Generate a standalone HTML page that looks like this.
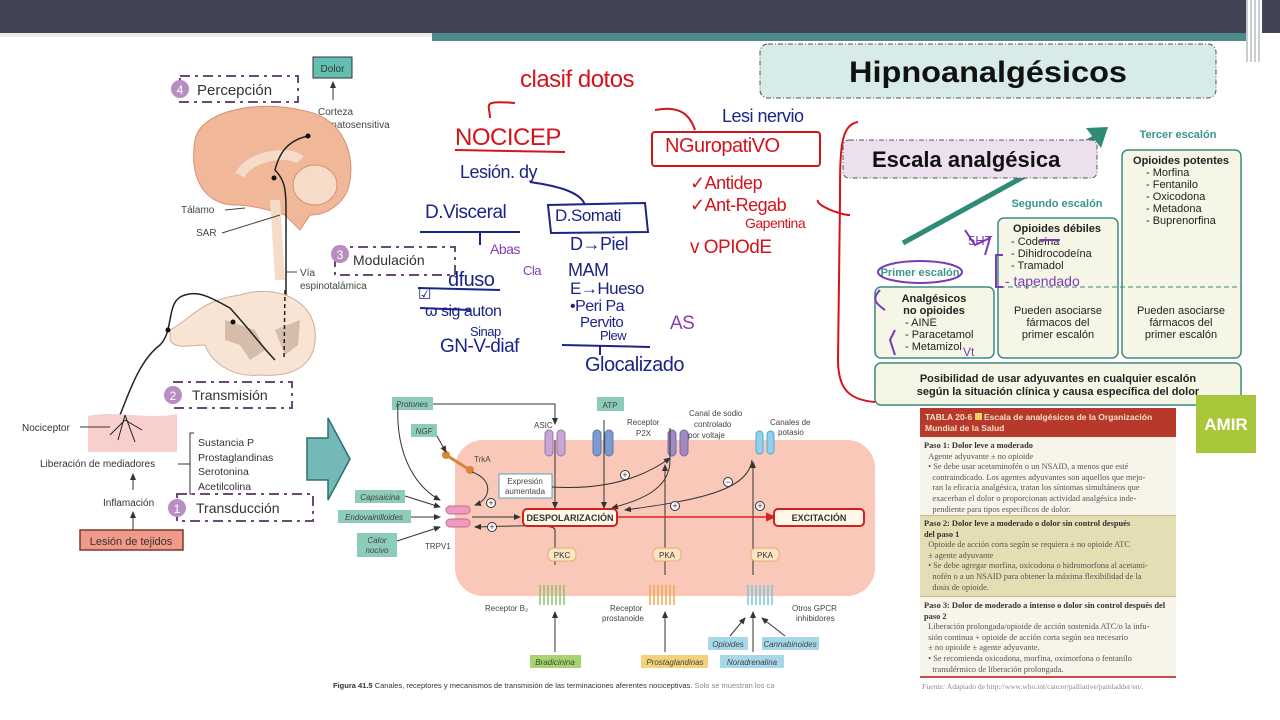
<!DOCTYPE html>
<html><head><meta charset="utf-8">
<style>
*{margin:0;padding:0;box-sizing:border-box}
body{width:1280px;height:720px;background:#fff;position:relative;overflow:hidden;font-family:"Liberation Sans",sans-serif}
.a{position:absolute}
.hw{position:absolute;font-family:"Liberation Sans Narrow","Liberation Sans",sans-serif;white-space:nowrap;letter-spacing:-0.5px}
.r{color:#d4141c}.b{color:#1b2585}.p{color:#8a3ab5}
.tl{font-family:"Liberation Serif",serif;font-size:8.4px;color:#555;line-height:10.6px}
</style></head><body>
<div class="a" style="left:0;top:0;width:1280px;height:33px;background:#404455"></div>
<div class="a" style="left:432px;top:33px;width:820px;height:8px;background:#4d8c8a"></div>
<div class="a" style="left:0;top:33px;width:432px;height:4px;background:#e8eeee"></div>
<div class="a" style="left:1246px;top:0;width:16px;height:62px;background:repeating-linear-gradient(90deg,#c8cdd0 0 2px,#fff 2px 4px)"></div>

<svg class="a" style="left:0;top:0" width="1280" height="720" viewBox="0 0 1280 720">
<defs>
<marker id="ar" markerWidth="8" markerHeight="8" refX="6" refY="3" orient="auto"><path d="M0,0 L7,3 L0,6 z" fill="#333"/></marker>
<marker id="rr" markerWidth="8" markerHeight="8" refX="6" refY="3" orient="auto"><path d="M0,0 L7,3 L0,6 z" fill="#e02020"/></marker>
</defs>
<rect x="313" y="57" width="39" height="21" fill="#64bfb3" stroke="#333"/>
<text x="332.5" y="72" font-size="10" text-anchor="middle" fill="#333">Dolor</text>
<line x1="333" y1="100" x2="333" y2="82" stroke="#333" marker-end="url(#ar)"/>
<text x="318" y="115" font-size="10" fill="#444">Corteza</text>
<text x="318" y="128" font-size="10" fill="#444">somatosensitiva</text>
<rect x="180" y="76" width="118" height="26" fill="none" stroke="#6b4a74" stroke-width="2" stroke-dasharray="10,5,3,5"/>
<circle cx="180" cy="89" r="9" fill="#b98cc2"/><text x="180" y="94" font-size="12" fill="#fff" text-anchor="middle">4</text>
<text x="197" y="95" font-size="15" fill="#333">Percepción</text>
<path d="M195,140 C200,110 260,100 300,110 C340,115 355,150 350,180 C348,200 330,215 310,215 L300,230 L285,215 C270,210 250,205 235,205 C210,205 188,185 195,140z" fill="#f1b799" stroke="#d98f70"/>
<ellipse cx="315" cy="185" rx="22" ry="20" fill="#f6dcc8" stroke="#d98f70"/>
<path d="M240,175 C250,155 290,150 300,160" stroke="#f6dcc8" stroke-width="10" fill="none"/>
<path d="M275,200 L280,280" stroke="#f6dcc8" stroke-width="10"/>
<path d="M308,136 C290,140 280,150 275,170 C285,180 286,190 286,210 L286,330" stroke="#222" stroke-width="1.5" fill="none"/>
<circle cx="308" cy="136" r="2.5" fill="#111"/><circle cx="274" cy="178" r="2.5" fill="#111"/>
<text x="181" y="213" font-size="10" fill="#444">Tálamo</text><line x1="225" y1="210" x2="245" y2="208" stroke="#444"/>
<text x="196" y="236" font-size="10" fill="#444">SAR</text><line x1="222" y1="233" x2="280" y2="215" stroke="#444"/>
<text x="300" y="276" font-size="10" fill="#444">Vía</text><line x1="286" y1="272" x2="297" y2="272" stroke="#444"/>
<text x="300" y="289" font-size="10" fill="#444">espinotalámica</text>
<path d="M170,330 C190,320 200,300 240,295 C270,285 310,295 315,330 C318,360 300,378 260,375 C230,378 210,360 205,345 C190,345 175,350 170,340z" fill="#f7e4d4" stroke="#ccb09a"/>
<path d="M225,320 L255,330 L265,350 L250,360 L240,345 L225,340z M275,330 L300,320 L298,345 L285,355z" fill="#d6bcab"/>
<path d="M120,415 C130,390 140,360 160,345 C175,330 165,300 185,295 C200,290 215,300 230,308 C250,330 265,350 275,360" stroke="#222" stroke-width="1.5" fill="none"/>
<line x1="285" y1="290" x2="284" y2="360" stroke="#222" stroke-width="1.5" stroke-dasharray="4,3"/>
<circle cx="168" cy="330" r="2.5" fill="#111"/><circle cx="233" cy="322" r="2.5" fill="#111"/>
<rect x="335" y="247" width="120" height="28" fill="none" stroke="#6b4a74" stroke-width="2" stroke-dasharray="10,5,3,5"/>
<circle cx="340" cy="254" r="9" fill="#b98cc2"/><text x="340" y="259" font-size="12" fill="#fff" text-anchor="middle">3</text>
<text x="353" y="265" font-size="14" fill="#333">Modulación</text>
<rect x="173" y="382" width="119" height="26" fill="none" stroke="#6b4a74" stroke-width="2" stroke-dasharray="10,5,3,5"/>
<circle cx="173" cy="395" r="9" fill="#b98cc2"/><text x="173" y="400" font-size="12" fill="#fff" text-anchor="middle">2</text>
<text x="192" y="400" font-size="14" fill="#333">Transmisión</text>
<path d="M88,416 C110,410 150,420 177,414 L177,452 L88,452z" fill="#f7d0cd"/>
<path d="M125,415 L118,440 M125,415 L135,442 M125,420 L110,435 M125,420 L142,430" stroke="#222" stroke-width="1" fill="none"/>
<text x="22" y="431" font-size="10" fill="#333">Nociceptor</text><line x1="80" y1="427" x2="110" y2="427" stroke="#333"/>
<text x="40" y="467" font-size="10" fill="#333">Liberación de mediadores</text><line x1="178" y1="464" x2="190" y2="464" stroke="#333"/>
<path d="M194,433 L190,433 L190,494 L194,494" stroke="#333" fill="none"/>
<text x="198" y="446" font-size="10.5" fill="#333">Sustancia P</text>
<text x="198" y="461" font-size="10.5" fill="#333">Prostaglandinas</text>
<text x="198" y="475" font-size="10.5" fill="#333">Serotonina</text>
<text x="198" y="490" font-size="10.5" fill="#333">Acetilcolina</text>
<line x1="133" y1="490" x2="133" y2="474" stroke="#333" marker-end="url(#ar)"/>
<text x="103" y="506" font-size="10" fill="#333">Inflamación</text>
<line x1="133" y1="530" x2="133" y2="512" stroke="#333" marker-end="url(#ar)"/>
<rect x="80" y="530" width="103" height="20" fill="#f29a8a" stroke="#7b3b2b" stroke-width="1.5"/>
<text x="131" y="545" font-size="11" fill="#333" text-anchor="middle">Lesión de tejidos</text>
<rect x="177" y="494" width="136" height="27" fill="none" stroke="#6b4a74" stroke-width="2" stroke-dasharray="10,5,3,5"/>
<circle cx="177" cy="508" r="9" fill="#b98cc2"/><text x="177" y="513" font-size="12" fill="#fff" text-anchor="middle">1</text>
<text x="196" y="513" font-size="14" fill="#333">Transducción</text>
<path d="M307,438 L328,438 L328,418 L350,459 L328,500 L328,480 L307,480z" fill="#74b8b8" stroke="#2f6f6f" stroke-width="1.5"/>

<rect x="455" y="440" width="420" height="156" rx="28" fill="#f9c8b9"/>
<g font-size="8" fill="#444">
<rect x="392" y="397" width="41" height="13" fill="#8dcbbb"/><text x="412" y="407" text-anchor="middle" font-style="italic">Protones</text>
<rect x="411" y="424" width="26" height="13" fill="#8dcbbb"/><text x="424" y="434" text-anchor="middle" font-style="italic">NGF</text>
<rect x="355" y="490" width="50" height="13" fill="#8dcbbb"/><text x="380" y="500" text-anchor="middle" font-style="italic">Capsaicina</text>
<rect x="338" y="510" width="73" height="13" fill="#8dcbbb"/><text x="374" y="520" text-anchor="middle" font-style="italic">Endovainilloides</text>
<rect x="357" y="533" width="40" height="24" fill="#8dcbbb"/><text x="377" y="543" text-anchor="middle" font-style="italic">Calor</text><text x="377" y="553" text-anchor="middle" font-style="italic">nocivo</text>
<rect x="597" y="397" width="27" height="14" fill="#8dcbbb"/><text x="610" y="408" text-anchor="middle">ATP</text>
<text x="534" y="428">ASIC</text>
<text x="627" y="425">Receptor</text><text x="636" y="436">P2X</text>
<text x="689" y="416">Canal de sodio</text><text x="694" y="427">controlado</text><text x="688" y="438">por voltaje</text>
<text x="770" y="425">Canales de</text><text x="778" y="435">potasio</text>
<text x="474" y="462">TrkA</text><text x="425" y="549">TRPV1</text>
<rect x="499" y="474" width="53" height="24" fill="#fff" stroke="#57a6c0"/><text x="525" y="484" text-anchor="middle">Expresión</text><text x="525" y="494" text-anchor="middle">aumentada</text>
<text x="485" y="611">Receptor B₂</text>
<text x="610" y="611">Receptor</text><text x="602" y="621">prostanoide</text>
<text x="792" y="611">Otros GPCR</text><text x="796" y="621">inhibidores</text>
<rect x="530" y="655" width="51" height="13" fill="#a8d46e"/><text x="555" y="665" text-anchor="middle" font-style="italic">Bradicinina</text>
<rect x="641" y="655" width="67" height="13" fill="#f3d27a"/><text x="675" y="665" text-anchor="middle" font-style="italic">Prostaglandinas</text>
<rect x="708" y="637" width="40" height="13" fill="#a7d8ea"/><text x="728" y="647" text-anchor="middle" font-style="italic">Opioides</text>
<rect x="762" y="637" width="57" height="13" fill="#a7d8ea"/><text x="790" y="647" text-anchor="middle" font-style="italic">Cannabinoides</text>
<rect x="720" y="655" width="64" height="13" fill="#a7d8ea"/><text x="752" y="665" text-anchor="middle" font-style="italic">Noradrenalina</text>
</g>
<g>
<rect x="545" y="430" width="8" height="26" rx="4" fill="#c8a6d6" stroke="#9a76aa"/><rect x="557" y="430" width="8" height="26" rx="4" fill="#c8a6d6" stroke="#9a76aa"/>
<rect x="593" y="430" width="8" height="26" rx="4" fill="#7d9bd0" stroke="#5a76aa"/><rect x="605" y="430" width="8" height="26" rx="4" fill="#7d9bd0" stroke="#5a76aa"/>
<rect x="668" y="430" width="8" height="26" rx="4" fill="#a08ac2" stroke="#7a66a0"/><rect x="680" y="430" width="8" height="26" rx="4" fill="#a08ac2" stroke="#7a66a0"/>
<rect x="756" y="431" width="7" height="23" rx="3.5" fill="#8ed0ee" stroke="#5aa8cc"/><rect x="767" y="431" width="7" height="23" rx="3.5" fill="#8ed0ee" stroke="#5aa8cc"/>
<rect x="446" y="506" width="24" height="8" rx="4" fill="#ef9ac0" stroke="#c46a90"/><rect x="446" y="519" width="24" height="8" rx="4" fill="#ef9ac0" stroke="#c46a90"/>
<line x1="446" y1="455" x2="470" y2="470" stroke="#d9843c" stroke-width="3"/><circle cx="446" cy="455" r="4" fill="#d9843c"/><circle cx="470" cy="470" r="4" fill="#d9843c"/>
</g>
<g stroke="#333" fill="none" stroke-width="1">
<path d="M433,404 L555,404 L555,424" marker-end="url(#ar)"/>
<path d="M398,404 C395,460 420,490 440,500" marker-end="url(#ar)"/>
<path d="M437,436 L446,452" marker-end="url(#ar)"/>
<path d="M405,496 L440,507" marker-end="url(#ar)"/>
<path d="M411,517 L440,517" marker-end="url(#ar)"/>
<path d="M397,541 L440,527" marker-end="url(#ar)"/>
<path d="M472,472 C495,480 490,500 475,505" marker-end="url(#ar)"/>
<path d="M552,487 C600,490 640,480 670,458" marker-end="url(#ar)"/>
<line x1="555" y1="440" x2="555" y2="508" marker-end="url(#ar)"/>
<line x1="604" y1="420" x2="604" y2="508" marker-end="url(#ar)"/>
<path d="M670,428 L670,460 C670,490 640,500 612,508" marker-end="url(#ar)"/>
<path d="M752,460 C748,490 700,500 625,510" marker-end="url(#ar)"/>
<line x1="665" y1="575" x2="665" y2="465" marker-end="url(#ar)"/>
<line x1="753" y1="575" x2="753" y2="462" marker-end="url(#ar)"/>
<path d="M555,565 L555,530 C555,525 540,525 475,527" marker-end="url(#ar)"/>
<line x1="555" y1="652" x2="555" y2="612" marker-end="url(#ar)"/>
<line x1="665" y1="652" x2="665" y2="612" marker-end="url(#ar)"/>
<line x1="753" y1="652" x2="753" y2="612" marker-end="url(#ar)"/>
<line x1="730" y1="636" x2="745" y2="618" marker-end="url(#ar)"/>
<line x1="785" y1="636" x2="762" y2="618" marker-end="url(#ar)"/>
<line x1="472" y1="517" x2="520" y2="517" marker-end="url(#ar)"/>
</g>
<line x1="617" y1="517" x2="775" y2="517" stroke="#e02020" stroke-width="1.5" marker-end="url(#rr)"/>
<rect x="523" y="509" width="94" height="17" rx="4" fill="#fff8e8" stroke="#d02020" stroke-width="2"/>
<text x="570" y="521" font-size="9" font-weight="bold" text-anchor="middle" fill="#333">DESPOLARIZACIÓN</text>
<rect x="774" y="509" width="90" height="17" rx="4" fill="#fff8e8" stroke="#d02020" stroke-width="2"/>
<text x="819" y="521" font-size="9" font-weight="bold" text-anchor="middle" fill="#333">EXCITACIÓN</text>
<g font-size="8" fill="#333" text-anchor="middle">
<rect x="548" y="548" width="28" height="13" rx="5" fill="#fbe4c0" stroke="#e0b070"/><text x="562" y="558">PKC</text>
<rect x="653" y="548" width="28" height="13" rx="5" fill="#fbe4c0" stroke="#e0b070"/><text x="667" y="558">PKA</text>
<rect x="751" y="548" width="28" height="13" rx="5" fill="#fbe4c0" stroke="#e0b070"/><text x="765" y="558">PKA</text>
</g>
<g fill="none" stroke-width="1.5">
<path d="M540,605 L540,585 M544,605 L544,585 M548,605 L548,585 M552,605 L552,585 M556,605 L556,585 M560,605 L560,585 M564,605 L564,585" stroke="#8cc46a"/>
<path d="M650,605 L650,585 M654,605 L654,585 M658,605 L658,585 M662,605 L662,585 M666,605 L666,585 M670,605 L670,585 M674,605 L674,585" stroke="#f0a850"/>
<path d="M748,605 L748,585 M752,605 L752,585 M756,605 L756,585 M760,605 L760,585 M764,605 L764,585 M768,605 L768,585 M772,605 L772,585" stroke="#7ac4de"/>
</g>
<g font-size="9" fill="#333" text-anchor="middle">
<circle cx="491" cy="503" r="4.5" fill="#fff" stroke="#333"/><text x="491" y="506">+</text>
<circle cx="492" cy="527" r="4.5" fill="#fff" stroke="#333"/><text x="492" y="530">+</text>
<circle cx="625" cy="475" r="4.5" fill="#fff" stroke="#333"/><text x="625" y="478">+</text>
<circle cx="728" cy="482" r="4.5" fill="#fff" stroke="#333"/><text x="728" y="485">−</text>
<circle cx="675" cy="506" r="4.5" fill="#fff" stroke="#333"/><text x="675" y="509">+</text>
<circle cx="760" cy="506" r="4.5" fill="#fff" stroke="#333"/><text x="760" y="509">+</text>
</g>
<text x="333" y="688" font-size="7.5" fill="#333"><tspan font-weight="bold">Figura 41.5</tspan>   Canales, receptores y mecanismos de transmisión de las terminaciones aferentes nociceptivas. <tspan fill="#888">Solo se muestran los ca</tspan></text>

<rect x="760" y="44" width="456" height="54" rx="8" fill="#d7ebe9" stroke="#555" stroke-dasharray="5,2,1,2"/>
<text x="988" y="82" font-size="30" font-weight="bold" text-anchor="middle" fill="#111" textLength="278" lengthAdjust="spacingAndGlyphs">Hipnoanalgésicos</text>
<line x1="903" y1="243" x2="1096" y2="137" stroke="#2f8a78" stroke-width="5"/>
<path d="M1108,127 L1086,128 L1101,148 z" fill="#2f8a78"/>
<rect x="843" y="140" width="254" height="38" rx="6" fill="#ece0ee" stroke="#555" stroke-dasharray="5,2,1,2"/>
<text x="872" y="167" font-size="22" font-weight="bold" fill="#111">Escala analgésica</text>
<g font-weight="bold" fill="#3a968a" font-size="11" text-anchor="middle">
<text x="1178" y="138">Tercer escalón</text><text x="1057" y="207">Segundo escalón</text><text x="920" y="276">Primer escalón</text>
</g>
<g fill="#f6f6e6" stroke="#3f8a80" stroke-width="1.5">
<rect x="1122" y="150" width="119" height="208" rx="6"/>
<rect x="998" y="218" width="120" height="140" rx="6"/>
<rect x="875" y="287" width="119" height="71" rx="6"/>
<rect x="875" y="363" width="366" height="42" rx="6"/>
</g>
<line x1="1000" y1="287" x2="1241" y2="287" stroke="#3f8a80" stroke-dasharray="5,3"/>
<g font-size="11" fill="#222">
<text x="1181" y="164" font-weight="bold" text-anchor="middle">Opioides potentes</text>
<text x="1146" y="176">- Morfina</text><text x="1146" y="188">- Fentanilo</text><text x="1146" y="200">- Oxicodona</text><text x="1146" y="212">- Metadona</text><text x="1146" y="224">- Buprenorfina</text>
<text x="1013" y="232" font-weight="bold">Opioides débiles</text>
<text x="1011" y="245">- Codeína</text><text x="1011" y="257">- Dihidrocodeína</text><text x="1011" y="269">- Tramadol</text>
<text x="934" y="302" font-weight="bold" text-anchor="middle">Analgésicos</text><text x="934" y="314" font-weight="bold" text-anchor="middle">no opioides</text>
<text x="905" y="326">- AINE</text><text x="905" y="338">- Paracetamol</text><text x="905" y="350">- Metamizol</text>
<g text-anchor="middle"><text x="1058" y="314">Pueden asociarse</text><text x="1058" y="326">fármacos del</text><text x="1058" y="338">primer escalón</text>
<text x="1181" y="314">Pueden asociarse</text><text x="1181" y="326">fármacos del</text><text x="1181" y="338">primer escalón</text>
<text x="1058" y="382" font-weight="bold">Posibilidad de usar adyuvantes en cualquier escalón</text>
<text x="1058" y="395" font-weight="bold">según la situación clínica y causa específica del dolor</text></g>
</g>
<g stroke="#7a3ab5" stroke-width="2" fill="none">
<ellipse cx="920" cy="272" rx="42" ry="11"/>
<path d="M880,290 C870,300 878,305 885,310"/>
<path d="M1003,255 L996,255 L996,287 L1003,287"/>
<path d="M965,230 L975,245 L990,238 L985,255"/>
<path d="M895,330 L890,340 L895,355"/>
<path d="M1040,240 L1060,240"/>
</g>
<text x="1005" y="286" font-size="14" fill="#7a3ab5">- tapendado</text>
<text x="968" y="245" font-size="13" fill="#7a3ab5">5HT</text>
<text x="963" y="356" font-size="12" fill="#7a3ab5">Vt</text>
<rect x="1196" y="395" width="60" height="58" fill="#a9c73b"/>
<text x="1226" y="430" font-size="17" font-weight="bold" fill="#fff" text-anchor="middle">AMIR</text>

<path d="M858,122 C840,125 840,150 840,200 L838,360 C838,390 850,400 875,402" stroke="#d4141c" stroke-width="2" fill="none"/>
<g stroke="#d4141c" stroke-width="2" fill="none">
<path d="M515,103 C480,100 490,105 490,118"/>
<path d="M655,110 C680,105 690,115 695,130"/>
<rect x="652" y="132" width="168" height="34" rx="3"/>
<path d="M455,150 L565,152"/>
<path d="M818,200 C815,205 840,215 850,215"/>
</g>
<g stroke="#1b2585" stroke-width="2" fill="none">
<path d="M548,205 L645,203 L648,232 L551,233z"/>
<path d="M420,232 L520,232"/>
<path d="M480,233 L480,245"/>
<path d="M418,288 L500,290"/>
<path d="M420,308 L470,310"/>
<path d="M562,345 L650,347"/>
<path d="M600,345 L600,355"/>
<path d="M530,182 C550,185 580,190 585,205"/>
</g>
</svg>

<div class="hw r" style="left:520px;top:66px;font-size:24px">clasif dotos</div>
<div class="hw r" style="left:455px;top:124px;font-size:24px">NOCICEP</div>
<div class="hw r" style="left:665px;top:135px;font-size:20px">NGuropatiVO</div>
<div class="hw b" style="left:722px;top:106px;font-size:18px">Lesi nervio</div>
<div class="hw r" style="left:690px;top:173px;font-size:18px">✓Antidep</div>
<div class="hw r" style="left:690px;top:195px;font-size:18px">✓Ant-Regab</div>
<div class="hw r" style="left:745px;top:215px;font-size:14px">Gapentina</div>
<div class="hw r" style="left:690px;top:237px;font-size:19px">v OPIOdE</div>
<div class="hw b" style="left:460px;top:162px;font-size:18px">Lesión. dy</div>
<div class="hw b" style="left:425px;top:202px;font-size:19px">D.Visceral</div>
<div class="hw b" style="left:555px;top:206px;font-size:17px">D.Somati</div>
<div class="hw b" style="left:570px;top:234px;font-size:18px">D→Piel</div>
<div class="hw b" style="left:568px;top:260px;font-size:18px">MAM</div>
<div class="hw b" style="left:570px;top:279px;font-size:17px">E→Hueso</div>
<div class="hw b" style="left:570px;top:298px;font-size:16px">•Peri Pa</div>
<div class="hw b" style="left:580px;top:314px;font-size:15px">Pervito</div>
<div class="hw b" style="left:600px;top:328px;font-size:13px">Plew</div>
<div class="hw b" style="left:585px;top:354px;font-size:20px">Glocalizado</div>
<div class="hw p" style="left:490px;top:241px;font-size:14px">Abas</div>
<div class="hw p" style="left:523px;top:263px;font-size:13px">Cla</div>
<div class="hw p" style="left:670px;top:313px;font-size:19px">AS</div>
<div class="hw b" style="left:448px;top:269px;font-size:20px">dfuso</div>
<div class="hw b" style="left:418px;top:285px;font-size:15px">☑</div>
<div class="hw b" style="left:425px;top:303px;font-size:16px">ω sig auton</div>
<div class="hw b" style="left:470px;top:324px;font-size:13px">Sinap</div>
<div class="hw b" style="left:440px;top:336px;font-size:19px">GN-V-diaf</div>

<div class="a" style="left:920px;top:408px;width:256px;height:270px;background:#f7f4ea"></div>
<div class="a" style="left:920px;top:408px;width:256px;height:29px;background:#b7392b;color:#f7e0c8;font-size:8.5px;font-weight:bold;padding:4px 5px;line-height:11px">TABLA 20-6 <span style="display:inline-block;width:7px;height:7px;background:#e8d060"></span> Escala de analgésicos de la Organización Mundial de la Salud</div>
<div class="a" style="left:920px;top:515px;width:256px;height:82px;background:#e5ddb4;border-top:1px solid #c7b98a;border-bottom:1px solid #c7b98a"></div>
<div class="a" style="left:920px;top:676px;width:256px;height:2px;background:#c0504d"></div>
<div class="a tl" style="left:924px;top:441px;width:250px"><b style="color:#333">Paso 1: Dolor leve a moderado</b><br>&nbsp;&nbsp;Agente adyuvante ± no opioide<br>&nbsp;&nbsp;• Se debe usar acetaminofén o un NSAID, a menos que esté<br>&nbsp;&nbsp;&nbsp;&nbsp;contraindicado. Los agentes adyuvantes son aquellos que mejo-<br>&nbsp;&nbsp;&nbsp;&nbsp;ran la eficacia analgésica, tratan los síntomas simultáneos que<br>&nbsp;&nbsp;&nbsp;&nbsp;exacerban el dolor o proporcionan actividad analgésica inde-<br>&nbsp;&nbsp;&nbsp;&nbsp;pendiente para tipos específicos de dolor.</div>
<div class="a tl" style="left:924px;top:519px;width:250px"><b style="color:#333">Paso 2: Dolor leve a moderado o dolor sin control después<br>del paso 1</b><br>&nbsp;&nbsp;Opioide de acción corta según se requiera ± no opioide ATC<br>&nbsp;&nbsp;± agente adyuvante<br>&nbsp;&nbsp;• Se debe agregar morfina, oxicodona o hidromorfona al acetami-<br>&nbsp;&nbsp;&nbsp;&nbsp;nofén o a un NSAID para obtener la máxima flexibilidad de la<br>&nbsp;&nbsp;&nbsp;&nbsp;dosis de opioide.</div>
<div class="a tl" style="left:924px;top:601px;width:252px"><b style="color:#333">Paso 3: Dolor de moderado a intenso o dolor sin control después del<br>paso 2</b><br>&nbsp;&nbsp;Liberación prolongada/opioide de acción sostenida ATC/o la infu-<br>&nbsp;&nbsp;sión continua + opioide de acción corta según sea necesario<br>&nbsp;&nbsp;± no opioide ± agente adyuvante.<br>&nbsp;&nbsp;• Se recomienda oxicodona, morfina, oximorfona o fentanilo<br>&nbsp;&nbsp;&nbsp;&nbsp;transdérmico de liberación prolongada.</div>
<div class="a tl" style="left:922px;top:682px;font-size:7.5px;color:#888"><i>Fuente:</i> Adaptado de http://www.who.int/cancer/palliative/painladder/en/.</div>
</body></html>
